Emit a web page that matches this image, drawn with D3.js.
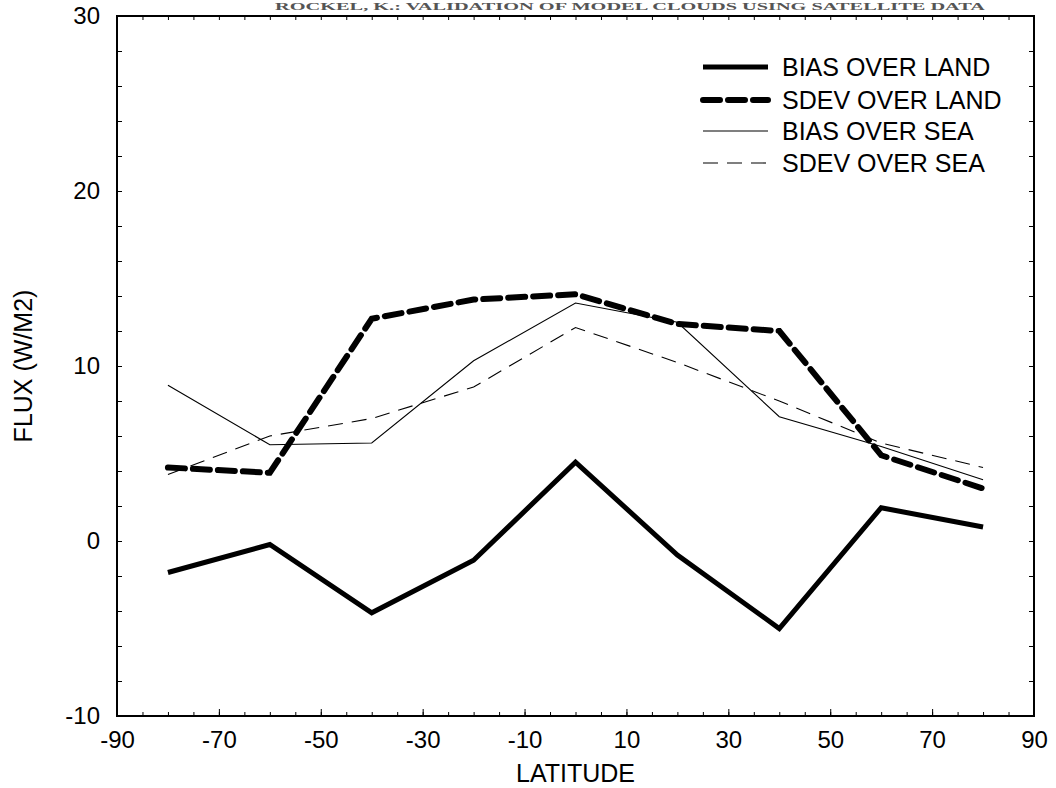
<!DOCTYPE html>
<html>
<head>
<meta charset="utf-8">
<script src="https://cdn.jsdelivr.net/npm/d3@7"></script>
<style>
  body { margin: 0; background: #fff; }
  svg { display: block; font-family: "Liberation Sans", Arial, Helvetica, sans-serif; }
</style>
</head>
<body>
<svg id="canvas"></svg>
<script>
// data
const latitudes = [-80, -60, -40, -20, 0, 20, 40, 60, 80];
const biasLand = [-1.8, -0.2, -4.1, -1.1, 4.5, -0.8, -5.0, 1.9, 0.8];
const sdevLand = [4.2, 3.9, 12.7, 13.8, 14.1, 12.4, 12.0, 4.9, 3.0];
const biasSea = [8.9, 5.5, 5.6, 10.3, 13.6, 12.5, 7.1, 5.4, 3.5];
const sdevSea = [3.8, 6.0, 7.0, 8.8, 12.2, 10.2, 8.0, 5.6, 4.2];
const seriesNames = ['BIAS OVER LAND', 'SDEV OVER LAND', 'BIAS OVER SEA', 'SDEV OVER SEA'];
const xTickLabels = [-90, -70, -50, -30, -10, 10, 30, 50, 70, 90];
const yTickLabels = [-10, 0, 10, 20, 30];

const width = 1056;
const height = 788;
const margin = { top: 16, right: 22, bottom: 72, left: 117 };

const svg = d3.select('#canvas').attr('width', width).attr('height', height);

const x = d3.scaleLinear().domain([-90, 90]).range([margin.left, width - margin.right]);
const y = d3.scaleLinear().domain([-10, 30]).range([height - margin.bottom, margin.top]);

// line styles per series
const styles = [
  { width: 5, dash: null },
  { width: 6, dash: '17,8' },
  { width: 1.1, dash: null },
  { width: 1.1, dash: '15,9' }
];
const values = [biasLand, sdevLand, biasSea, sdevSea];

// heading of the scanned page (mostly cut off in the scan)
svg.append('text')
  .attr('x', 275)
  .attr('y', 10)
  .attr('textLength', 710)
  .attr('lengthAdjust', 'spacingAndGlyphs')
  .style('font-family', '"Liberation Serif", "DejaVu Serif", serif')
  .style('font-weight', 'bold')
  .style('font-size', '11px')
  .attr('fill', '#555')
  .text('ROCKEL, K.: VALIDATION OF MODEL CLOUDS USING SATELLITE DATA');

// minor ticks
const minorX = d3.range(-90, 91, 5);
const minorY = d3.range(-10, 31, 2);

svg.append('g')
  .attr('transform', `translate(0,${y(-10)})`)
  .call(d3.axisBottom(x).tickValues(minorX).tickSize(-4).tickFormat(''));
svg.append('g')
  .attr('transform', `translate(0,${y(30)})`)
  .call(d3.axisTop(x).tickValues(minorX).tickSize(-4).tickFormat(''));
svg.append('g')
  .attr('transform', `translate(${x(-90)},0)`)
  .call(d3.axisLeft(y).tickValues(minorY).tickSize(-5).tickFormat(''));
svg.append('g')
  .attr('transform', `translate(${x(90)},0)`)
  .call(d3.axisRight(y).tickValues(minorY).tickSize(-5).tickFormat(''));

// labelled axes (plain hyphen for negatives, as in the scan)
const xAxis = svg.append('g')
  .attr('transform', `translate(0,${y(-10)})`)
  .call(d3.axisBottom(x).tickValues(xTickLabels).tickSize(-7).tickPadding(15).tickFormat(d => String(d)));
const yAxis = svg.append('g')
  .attr('transform', `translate(${x(-90)},0)`)
  .call(d3.axisLeft(y).tickValues(yTickLabels).tickSize(-5).tickPadding(17).tickFormat(d => String(d)));

[xAxis, yAxis].forEach(g => {
  g.select('.domain').remove();
  g.selectAll('text').style('font-size', '24px').attr('fill', '#000')
    .style('font-family', '"Liberation Sans", Arial, sans-serif');
});

svg.selectAll('.tick line').attr('stroke', '#000').attr('stroke-width', 1);

// frame
svg.append('rect')
  .attr('x', x(-90)).attr('y', y(30))
  .attr('width', x(90) - x(-90)).attr('height', y(-10) - y(30))
  .attr('fill', 'none').attr('stroke', '#000').attr('stroke-width', 2);

// series lines
const line = d3.line()
  .x((d, i) => x(latitudes[i]))
  .y(d => y(d));

values.forEach((vals, k) => {
  svg.append('path')
    .datum(vals)
    .attr('d', line)
    .attr('fill', 'none')
    .attr('stroke', '#000')
    .attr('stroke-width', styles[k].width)
    .attr('stroke-dasharray', styles[k].dash)
    .attr('stroke-linecap', k === 1 ? 'round' : 'butt')
    .attr('stroke-linejoin', 'miter');
});

// legend
const legend = svg.append('g').attr('transform', 'translate(703,67)');
seriesNames.forEach((name, k) => {
  const row = legend.append('g').attr('transform', `translate(0,${[0, 33, 64, 96][k]})`);
  row.append('line')
    .attr('x1', 0).attr('x2', 65).attr('y1', 0).attr('y2', 0)
    .attr('stroke', '#000')
    .attr('stroke-width', styles[k].width)
    .attr('stroke-dasharray', styles[k].dash)
    .attr('stroke-linecap', k === 1 ? 'round' : 'butt');
  row.append('text')
    .attr('x', 79).attr('y', 0).attr('dy', '0.35em')
    .style('font-size', '25px')
    .text(name);
});

// axis titles
svg.append('text')
  .attr('x', (x(-90) + x(90)) / 2)
  .attr('y', 782)
  .attr('text-anchor', 'middle')
  .style('font-size', '25px')
  .text('LATITUDE');

svg.append('text')
  .attr('transform', `translate(32,${(y(-10) + y(30)) / 2}) rotate(-90)`)
  .attr('text-anchor', 'middle')
  .style('font-size', '25px')
  .text('FLUX (W/M2)');
</script>
</body>
</html>
